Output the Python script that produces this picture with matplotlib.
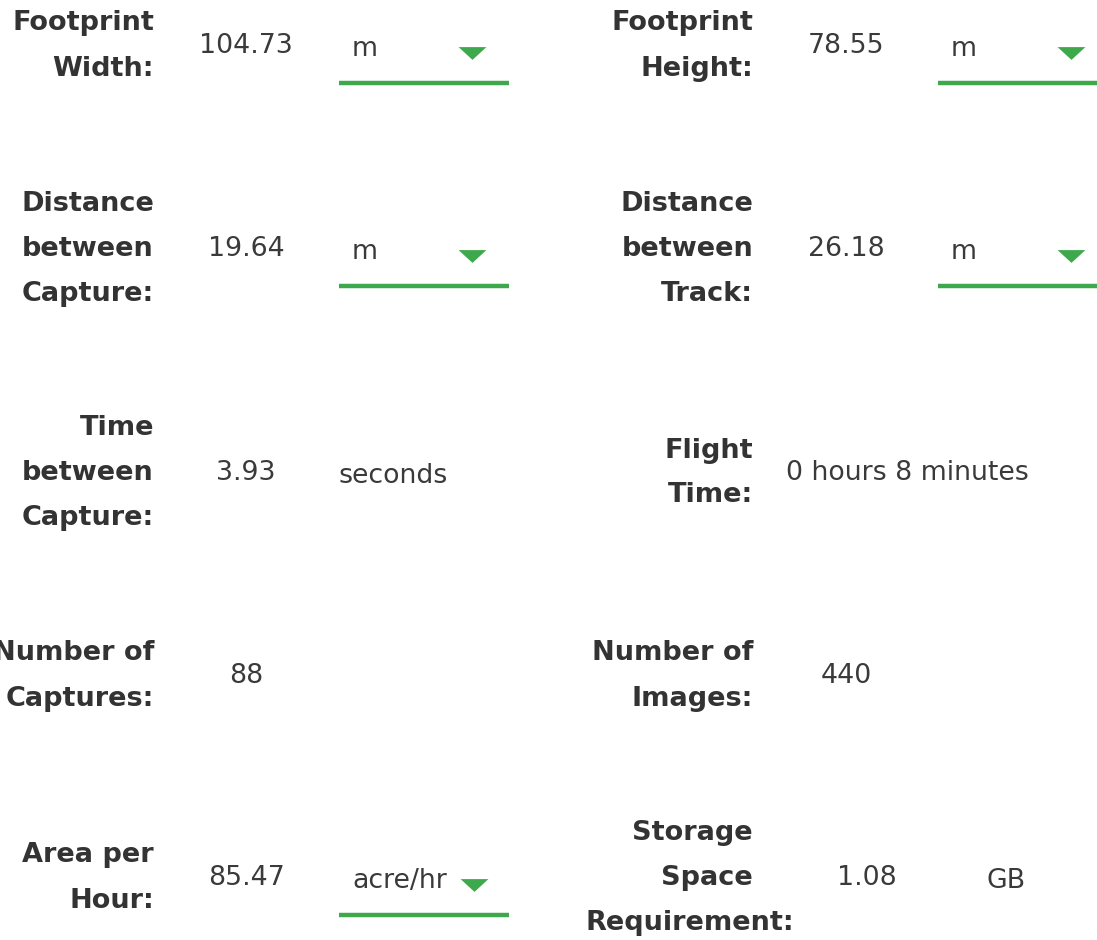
import matplotlib.pyplot as plt
from matplotlib.path import Path

plt.rcParams['font.family'] = ['DejaVu Sans']

# form contents, left and right columns
left_labels = [["Footprint", "Width:"], ["Distance", "between", "Capture:"],
               ["Time", "between", "Capture:"], ["Number of", "Captures:"],
               ["Area per", "Hour:"]]
left_values = ["104.73", "19.64", "3.93", "88", "85.47"]
left_units = ["m", "m", "seconds", "", "acre/hr"]
left_dropdown = [True, True, False, False, True]

right_labels = [["Footprint", "Height:"], ["Distance", "between", "Track:"],
                ["Flight", "Time:"], ["Number of", "Images:"],
                ["Storage", "Space", "Requirement:"]]
right_values = ["78.55", "26.18", "0 hours 8 minutes", "440", "1.08"]
right_units = ["m", "m", "", "", "GB"]
right_dropdown = [True, True, False, False, False]

# layout
row_y = [46, 249, 473, 676, 878]
LINE_GAP = 45
COL_WIDTH = 168

TEXT = "#333333"
VALUE = "#3a3a3a"
GREEN = "#3ea84c"

# flat, wide down arrow used by the dropdowns
arrow = Path([(-1.0, 0.46), (1.0, 0.46), (0.0, -0.46), (-1.0, 0.46)],
             [Path.MOVETO, Path.LINETO, Path.LINETO, Path.CLOSEPOLY])


def draw_column(ax, labels, values, units, dropdown, x_label, x_value, x_unit):
    for i, y in enumerate(row_y):
        lines = labels[i]
        n = len(lines)
        spills = False
        for k, line in enumerate(lines):
            ly = y + (k - (n - 1) / 2) * LINE_GAP
            if len(line) > 11:
                # too long for the label cell: starts at its left edge and spills over
                ax.text(x_label - COL_WIDTH, ly, line, ha="left", va="center",
                        fontsize=19.5, fontweight="bold", color=TEXT)
                spills = True
            else:
                ax.text(x_label, ly, line, ha="right", va="center", fontsize=19.5,
                        fontweight="bold", color=TEXT)

        # value cell is pushed right when the label spills over
        vx = x_value + 21 if spills else x_value
        if values[i].startswith("0 hours"):
            ax.text(x_value - 60, y, values[i], ha="left", va="center", fontsize=19.3,
                    color=VALUE)
        else:
            ax.text(vx, y, values[i], ha="center", va="center", fontsize=19.3,
                    color=VALUE)

        line_x0 = x_unit - 13
        if units[i]:
            if units[i] == "GB":
                x_u = x_unit + 35
            elif dropdown[i]:
                x_u = x_unit
            else:
                x_u = line_x0
            ax.text(x_u, y + 3, units[i], ha="left", va="center", fontsize=19.3,
                    color=VALUE)

        if dropdown[i]:
            x_arrow = line_x0 + 133 + (2 if units[i] == "acre/hr" else 0)
            ax.plot(x_arrow, y + 7, marker=arrow, markersize=20, color=GREEN,
                    markeredgewidth=0)
            ax.plot([line_x0, line_x0 + 170], [y + 37, y + 37], color=GREEN,
                    linewidth=3.2, solid_capstyle="butt")


fig = plt.figure(figsize=(10.97, 9.40), dpi=100)
ax = fig.add_axes([0, 0, 1, 1])
ax.set_xlim(0, 1097)
ax.set_ylim(940, 0)
ax.axis("off")

draw_column(ax, left_labels, left_values, left_units, left_dropdown, 154, 246, 352)
draw_column(ax, right_labels, right_values, right_units, right_dropdown, 753, 846, 951)

fig.savefig("out.png", dpi=100, facecolor="white")
